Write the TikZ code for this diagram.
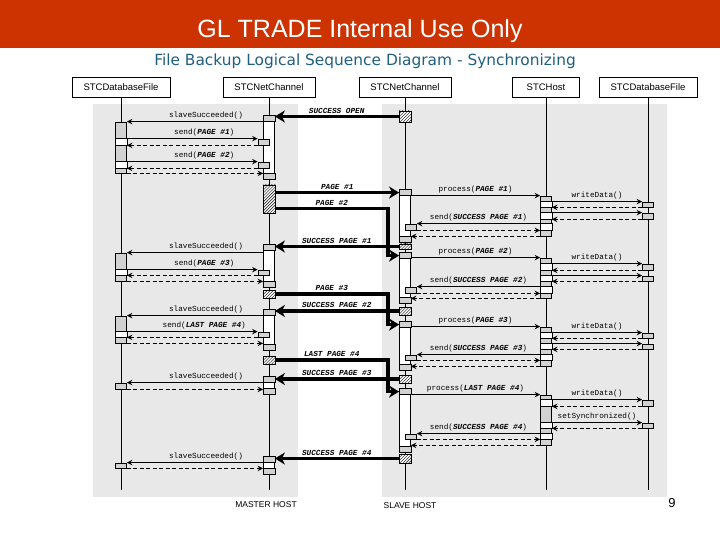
\documentclass[tikz,border=0pt]{standalone}
\usepackage{fontspec}
\setmainfont{Liberation Sans}
\setmonofont{Liberation Mono}
\newfontfamily\subfont{DejaVu Sans}
\usepackage{tikz}
\usetikzlibrary{arrows,arrows.meta,positioning,calc,patterns}

\definecolor{banner}{RGB}{204,51,0}
\definecolor{subtitle}{RGB}{31,95,127}
\definecolor{hostgrey}{RGB}{232,232,232}
\definecolor{capgrey}{RGB}{210,210,210}

\newcommand{\msgcaps}[1]{\textbf{\textit{#1}}}
% activation bar: [style]{name}{lifeline header}{top}{bottom}
\newcommand{\actbox}[5][act]{%
  \pgfmathsetmacro{\actmid}{(#4+#5)/2}
  \node[#1, minimum height={(#5-#4)*1bp}] (#2) at (#3 |- 0,\actmid) {};}
% small grey box: {name}{lifeline header}{top}{bottom}{x offset}
\newcommand{\smallbox}[5]{%
  \pgfmathsetmacro{\actmid}{(#3+#4)/2}
  \node[small, minimum height={(#4-#3)*1bp}, xshift=#5bp] (#1) at (#2 |- 0,\actmid) {};}
% hatched box: {name}{lifeline header}{top}{bottom}
\newcommand{\hatchbox}[4]{%
  \pgfmathsetmacro{\actmid}{(#3+#4)/2}
  \node[hatch, minimum height={(#4-#3)*1bp}] (#1) at (#2 |- 0,\actmid) {};}
\newcommand{\actcaps}[1]{%
  \draw[fill=capgrey] (#1.north west) rectangle ([yshift=-6bp]#1.north east);
  \draw[fill=capgrey] (#1.south west) rectangle ([yshift=6bp]#1.south east);}
\newcommand{\band}[2]{\draw[fill=white] (#1.west|-#2.north) rectangle (#1.east|-#2.south);}

\begin{document}
\begin{tikzpicture}[x=1bp, y=-1bp,
    hdr/.style={draw, fill=white, minimum height=20bp, inner sep=1bp, font=\fontsize{9.5bp}{11bp}\selectfont},
    life/.style={line width=0.8bp},
    act/.style={draw, fill=white, minimum width=11bp, inner sep=0pt, line width=0.8bp},
    actg/.style={act, fill=capgrey},
    small/.style={draw, fill=capgrey, minimum width=11bp, inner sep=0pt, line width=0.8bp},
    hatch/.style={draw, preaction={fill=white}, pattern=north east lines, minimum width=12bp, inner sep=0pt, line width=0.8bp},
    call/.style={->, >=stealth, line width=1.4bp},
    ret/.style={call, dash pattern=on 4bp off 2.5bp},
    big/.style={->, >={Stealth[length=10bp, width=12bp, inset=3bp]}, line width=3.5bp},
    lbl/.style={midway, above=1bp, inner sep=0.5bp, font=\fontsize{7.7bp}{9bp}\ttfamily}
]
\useasboundingbox (0,0) rectangle (720,540);

% title
\fill[banner] (0,0) rectangle (720,48);
\node[text=white, font=\fontsize{25bp}{30bp}\selectfont] (title) at (360,31) {GL TRADE Internal Use Only};
\node[text=subtitle, font=\subfont\fontsize{15.4bp}{18bp}\selectfont] (subtitle) at (365,61) {File Backup Logical Sequence Diagram - Synchronizing};

% hosts
\fill[hostgrey] (93,104) rectangle (298,497);
\fill[hostgrey] (382,104) rectangle (667,497);
\node[font=\fontsize{8.5bp}{10bp}\selectfont] (master) at (266,505) {MASTER HOST};
\node[font=\fontsize{8.5bp}{10bp}\selectfont] (slave) at (410,506) {SLAVE HOST};
\node[font=\fontsize{13bp}{15bp}\selectfont] (pageno) at (672,503) {9};

% objects and lifelines
\node[hdr, minimum width=98bp] (hd1) at (121,87) {STCDatabaseFile};
\node[hdr, minimum width=92bp] (hd2) at (269,87) {STCNetChannel};
\node[hdr, minimum width=92bp] (hd3) at (405,87) {STCNetChannel};
\node[hdr, minimum width=67bp] (hd4) at (546,87) {STCHost};
\node[hdr, minimum width=98bp] (hd5) at (648,87) {STCDatabaseFile};
\foreach \h in {hd1,hd2,hd3,hd4,hd5}
  \draw[life] (\h.south) -- (\h |- 0,490);

% master side
\actbox[actg]{fa1}{hd1}{122}{173}
\actbox[actg]{fa2}{hd1}{253}{281}
\actbox[actg]{fa3}{hd1}{316}{343}
\actbox{ca1}{hd2}{116}{179} \actcaps{ca1}
\actbox{ca2}{hd2}{245}{287} \actcaps{ca2}
\actbox{ca3}{hd2}{310}{350} \actcaps{ca3}
\actbox{ca4}{hd2}{377}{394} \actcaps{ca4}
\actbox{ca5}{hd2}{457}{474} \actcaps{ca5}
\smallbox{cs1}{hd2}{139}{145}{-5.5}
\smallbox{cs2}{hd2}{162}{168}{-5.5}
\smallbox{cs3}{hd2}{270}{275}{-5.5}
\smallbox{cs4}{hd2}{332}{337}{-5.5}
\smallbox{fs4}{hd1}{383}{389}{0}
\smallbox{fs5}{hd1}{463}{468}{0}
\band{fa1}{cs1} \band{fa1}{cs2}
\band{fa2}{cs3}
\band{fa3}{cs4}
\hatchbox{ch1}{hd2}{185}{213}
\hatchbox{ch2}{hd2}{290}{298}
\hatchbox{ch3}{hd2}{356}{364}

% slave side
\actbox{sa1}{hd3}{190}{242} \actcaps{sa1}
\actbox{sa2}{hd3}{253}{303} \actcaps{sa2}
\actbox{sa3}{hd3}{322}{370} \actcaps{sa3}
\actbox{sa4}{hd3}{389}{452} \actcaps{sa4}
\smallbox{ss1}{hd3}{224}{230}{6}
\smallbox{ss2}{hd3}{287}{293}{6}
\smallbox{ss3}{hd3}{355}{360}{6}
\smallbox{ss4}{hd3}{434}{439}{6}
\hatchbox{sh0}{hd3}{111}{122}
\hatchbox{sh1}{hd3}{244}{249}
\hatchbox{sh2}{hd3}{307}{315}
\hatchbox{sh3}{hd3}{375}{383}
\hatchbox{sh4}{hd3}{454}{463}
\actbox[actg]{ha1}{hd4}{196}{236}
\actbox[actg]{ha2}{hd4}{258}{298}
\actbox[actg]{ha3}{hd4}{327}{366}
\actbox[actg]{ha4}{hd4}{395}{445}
\smallbox{ds1}{hd5}{202}{207}{0}
\smallbox{ds2}{hd5}{213}{219}{0}
\smallbox{ds3}{hd5}{264}{270}{0}
\smallbox{ds4}{hd5}{276}{281}{0}
\smallbox{ds5}{hd5}{333}{338}{0}
\smallbox{ds6}{hd5}{344}{349}{0}
\smallbox{ds7}{hd5}{400}{406}{0}
\smallbox{ds8}{hd5}{423}{428}{0}
\band{ha1}{ds1} \band{ha1}{ds2} \band{ha1}{ss1}
\band{ha2}{ds3} \band{ha2}{ds4} \band{ha2}{ss2}
\band{ha3}{ds5} \band{ha3}{ds6} \band{ha3}{ss3}
\band{ha4}{ds7} \band{ha4}{ds8} \band{ha4}{ss4}

% entry points on the slave channel
\coordinate (in1) at ([yshift=-3bp]sa1.north west);
\coordinate (in2) at ([yshift=-3bp]sa2.north west);
\coordinate (in3) at ([yshift=-3bp]sa3.north west);
\coordinate (in4) at ([yshift=-3bp]sa4.north west);

% open
\draw[big] (sh0.west) -- node[lbl] {\msgcaps{SUCCESS OPEN}} (ca1.east|-sh0.west);
\draw[call] (ca1.west|-fa1.north) -- node[lbl, xshift=11bp] {slaveSucceeded()} (fa1.north east);
\draw[call] (fa1.east|-cs1.north) -- node[lbl, xshift=12bp] {send(\msgcaps{PAGE \#1})} (cs1.north west);
\draw[ret] (cs1.south west) -- (fa1.east|-cs1.south);
\draw[call] (fa1.east|-cs2.north) -- node[lbl, xshift=12bp] {send(\msgcaps{PAGE \#2})} (cs2.north west);
\draw[ret] (cs2.south west) -- (fa1.east|-cs2.south);
\draw[ret] (fa1.south east) -- (ca1.west|-fa1.south);
\draw[big] (ch1.east|-in1) -- node[lbl] {\msgcaps{PAGE \#1}} (in1);
\draw[big] ([yshift=5bp]ch1.south east) -| node[lbl, pos=0.25] {\msgcaps{PAGE \#2}} ([xshift=-11bp]in2) -- (in2);

% page 1
\draw[call] (sa1.east|-ha1.north) -- node[lbl] {process(\msgcaps{PAGE \#1})} (ha1.north west);
\draw[call] (ha1.east|-ds1.north) -- node[lbl] {writeData()} (ds1.north west);
\draw[ret] (ds1.south west) -- (ha1.east|-ds1.south);
\draw[call] (ha1.east|-ds2.north) -- (ds2.north west);
\draw[ret] (ds2.south west) -- (ha1.east|-ds2.south);
\draw[call] (ha1.west|-ss1.north) -- node[lbl] {send(\msgcaps{SUCCESS PAGE \#1})} (ss1.north east);
\draw[ret] (ss1.south east) -- (ha1.west|-ss1.south);
\draw[ret] (ha1.south west) -- (sa1.east|-ha1.south);
\draw[big] (sh1.west) -- node[lbl] {\msgcaps{SUCCESS PAGE \#1}} (ca2.east|-sh1.west);
\draw[call] (ca2.west|-fa2.north) -- node[lbl, xshift=11bp] {slaveSucceeded()} (fa2.north east);
\draw[call] (fa2.east|-cs3.north) -- node[lbl, xshift=12bp] {send(\msgcaps{PAGE \#3})} (cs3.north west);
\draw[ret] (cs3.south west) -- (fa2.east|-cs3.south);
\draw[ret] (fa2.south east) -- (ca2.west|-fa2.south);
\draw[big] (ch2.east) -| node[lbl, pos=0.25] {\msgcaps{PAGE \#3}} ([xshift=-11bp]in3) -- (in3);

% page 2
\draw[call] (sa2.east|-ha2.north) -- node[lbl] {process(\msgcaps{PAGE \#2})} (ha2.north west);
\draw[call] (ha2.east|-ds3.north) -- node[lbl] {writeData()} (ds3.north west);
\draw[ret] (ds3.south west) -- (ha2.east|-ds3.south);
\draw[call] (ha2.east|-ds4.north) -- (ds4.north west);
\draw[ret] (ds4.south west) -- (ha2.east|-ds4.south);
\draw[call] (ha2.west|-ss2.north) -- node[lbl] {send(\msgcaps{SUCCESS PAGE \#2})} (ss2.north east);
\draw[ret] (ss2.south east) -- (ha2.west|-ss2.south);
\draw[ret] (ha2.south west) -- (sa2.east|-ha2.south);
\draw[big] (sh2.west) -- node[lbl] {\msgcaps{SUCCESS PAGE \#2}} (ca3.east|-sh2.west);
\draw[call] (ca3.west|-fa3.north) -- node[lbl, xshift=11bp] {slaveSucceeded()} (fa3.north east);
\draw[call] (fa3.east|-cs4.north) -- node[lbl, xshift=12bp] {send(\msgcaps{LAST PAGE \#4})} (cs4.north west);
\draw[ret] (cs4.south west) -- (fa3.east|-cs4.south);
\draw[ret] (fa3.south east) -- (ca3.west|-fa3.south);
\draw[big] (ch3.east) -| node[lbl, pos=0.25] {\msgcaps{LAST PAGE \#4}} ([xshift=-11bp]in4) -- (in4);

% page 3
\draw[call] (sa3.east|-ha3.north) -- node[lbl] {process(\msgcaps{PAGE \#3})} (ha3.north west);
\draw[call] (ha3.east|-ds5.north) -- node[lbl] {writeData()} (ds5.north west);
\draw[ret] (ds5.south west) -- (ha3.east|-ds5.south);
\draw[call] (ha3.east|-ds6.north) -- (ds6.north west);
\draw[ret] (ds6.south west) -- (ha3.east|-ds6.south);
\draw[call] (ha3.west|-ss3.north) -- node[lbl] {send(\msgcaps{SUCCESS PAGE \#3})} (ss3.north east);
\draw[ret] (ss3.south east) -- (ha3.west|-ss3.south);
\draw[ret] (ha3.south west) -- (sa3.east|-ha3.south);
\draw[big] (sh3.west) -- node[lbl] {\msgcaps{SUCCESS PAGE \#3}} (ca4.east|-sh3.west);
\draw[call] (ca4.west|-fs4.north) -- node[lbl, xshift=11bp] {slaveSucceeded()} (fs4.north east);
\draw[ret] (fs4.south east) -- (ca4.west|-fs4.south);

% last page
\draw[call] (sa4.east|-ha4.north) -- node[lbl] {process(\msgcaps{LAST PAGE \#4})} (ha4.north west);
\draw[call] (ha4.east|-ds7.north) -- node[lbl] {writeData()} (ds7.north west);
\draw[ret] (ds7.south west) -- (ha4.east|-ds7.south);
\draw[call] (ha4.east|-ds8.north) -- node[lbl] {setSynchronized()} (ds8.north west);
\draw[ret] (ds8.south west) -- (ha4.east|-ds8.south);
\draw[call] (ha4.west|-ss4.north) -- node[lbl] {send(\msgcaps{SUCCESS PAGE \#4})} (ss4.north east);
\draw[ret] (ss4.south east) -- (ha4.west|-ss4.south);
\draw[ret] (ha4.south west) -- (sa4.east|-ha4.south);
\draw[big] (sh4.west) -- node[lbl] {\msgcaps{SUCCESS PAGE \#4}} (ca5.east|-sh4.west);
\draw[call] (ca5.west|-fs5.north) -- node[lbl, xshift=11bp] {slaveSucceeded()} (fs5.north east);
\draw[ret] (fs5.south east) -- (ca5.west|-fs5.south);
\end{tikzpicture}
\end{document}
